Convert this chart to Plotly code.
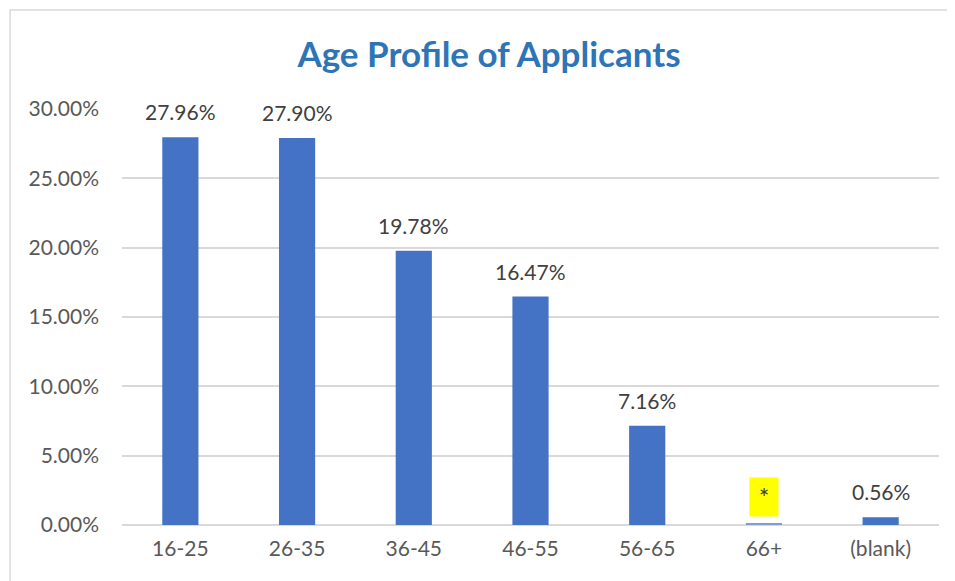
import plotly.graph_objects as go

categories = ["16-25", "26-35", "36-45", "46-55", "56-65", "66+", "(blank)"]
values = [0.2796, 0.2790, 0.1978, 0.1647, 0.0716, 0.0012, 0.0056]
labels = ["27.96%", "27.90%", "19.78%", "16.47%", "7.16%", "*", "0.56%"]
highlighted = ["66+"]
y_ticks = [0.0, 0.05, 0.10, 0.15, 0.20, 0.25, 0.30]
y_tick_labels = ["0.00%", "5.00%", "10.00%", "15.00%", "20.00%", "25.00%", "30.00%"]

FONT = "Lato"
BAR = "#4472C4"
FS = 21
W, H = 947, 573

fig = go.Figure()
fig.add_trace(go.Bar(
    x=categories, y=values,
    marker=dict(color=[BAR if c not in highlighted else "#7F9CD6" for c in categories], line=dict(width=0)),
    cliponaxis=False, width=0.31, hoverinfo="x+y",
))

for c, v, t in zip(categories, values, labels):
    if c in highlighted:
        fig.add_annotation(
            x=c, y=v, xref="x", yref="y", text=t, showarrow=False,
            yanchor="bottom", yshift=6, bgcolor="#FFFF00", width=28, height=38,
            borderpad=0, font=dict(family=FONT, size=25, color="#404040"),
        )
    else:
        fig.add_annotation(
            x=c, y=v, xref="x", yref="y", text=t, showarrow=False,
            yanchor="bottom", yshift=11,
            font=dict(family=FONT, size=FS, color="#404040"),
        )

fig.add_shape(type="rect", xref="paper", yref="paper",
              x0=-0.137, x1=1.1, y0=-0.3, y1=1.238,
              line=dict(color="#D9D9D9", width=1.5), fillcolor="rgba(0,0,0,0)", layer="below")

fig.update_layout(
    width=W, height=H,
    margin=dict(l=114, r=16, t=101, b=56),
    paper_bgcolor="white", plot_bgcolor="white",
    showlegend=False,
    title=dict(text="<b>Age Profile of Applicants</b>", x=481 / W, xanchor="center",
               y=1 - 47 / H, yanchor="middle",
               font=dict(family=FONT, size=35, color="#2E75B6")),
    font=dict(family=FONT, size=FS, color="#595959"),
)
fig.update_yaxes(range=[0, 0.30], tickvals=y_ticks, ticktext=y_tick_labels,
                 showgrid=True, gridcolor="#D9D9D9", gridwidth=1.5,
                 zeroline=True, zerolinecolor="#D9D9D9", zerolinewidth=1.5,
                 showline=False, ticks="", ticklabelstandoff=22,
                 tickfont=dict(family=FONT, size=FS, color="#595959"))
fig.update_xaxes(showline=False, ticks="", ticklabelstandoff=9,
                 tickfont=dict(family=FONT, size=FS, color="#595959"))

fig.write_html("out.html")
